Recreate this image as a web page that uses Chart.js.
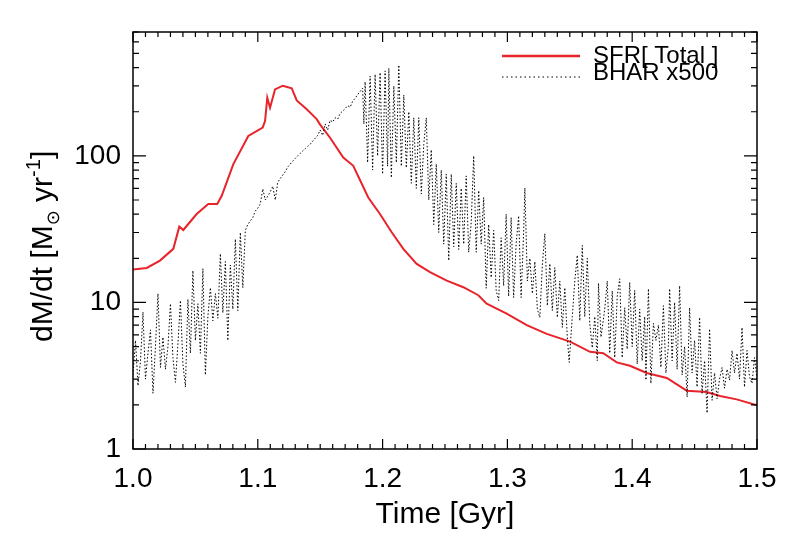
<!DOCTYPE html>
<html>
<head>
<meta charset="utf-8">
<script src="https://cdn.jsdelivr.net/npm/chart.js@4/dist/chart.umd.min.js"></script>
<style>
  body { margin: 0; background: #fff; }
  canvas { display: block; }
</style>
</head>
<body>
<canvas id="rateChart" width="796" height="537"></canvas>
<script>
// SFR (red) and BHAR x500 (black dotted)
const sfrTime = [1.000, 1.011, 1.0216, 1.0323, 1.0371, 1.0403, 1.051, 1.0603, 1.0675, 1.0711,
  1.0804, 1.0924, 1.1039, 1.1058, 1.1076, 1.1098, 1.1138, 1.120, 1.1272, 1.1312,
  1.1392, 1.1472, 1.1498, 1.1579, 1.1685, 1.1765, 1.1885, 1.1979, 1.2073, 1.2166,
  1.2273, 1.238, 1.2514, 1.2647, 1.2767, 1.2834, 1.2994, 1.3155, 1.3315, 1.3502,
  1.3662, 1.3768, 1.3876, 1.3982, 1.4116, 1.4277, 1.4437, 1.4597, 1.4704, 1.4837, 1.500];
const sfrRate = [16.8, 17.2, 19.3, 23.2, 32.9, 31.2, 40.1, 46.9, 46.9, 53.4,
  87.8, 136.8, 155.9, 173, 249, 213, 284, 301, 289, 239,
  208, 178, 164, 133, 97.3, 85.5, 52.0, 40.1, 30.1, 23.2,
  18.3, 16.1, 14.1, 12.7, 11.2, 9.8, 8.4, 7.0, 6.1, 5.4,
  4.6, 4.5, 3.9, 3.7, 3.3, 3.05, 2.5, 2.45, 2.3, 2.18, 1.99];

const bharTime = [1.000, 1.002, 1.004, 1.006, 1.008, 1.010, 1.012, 1.014, 1.016, 1.018,
  1.020, 1.022, 1.024, 1.026, 1.028, 1.030, 1.032, 1.034, 1.036, 1.038,
  1.040, 1.042, 1.044, 1.046, 1.048, 1.050, 1.052, 1.054, 1.056, 1.058,
  1.060, 1.062, 1.064, 1.066, 1.068, 1.070, 1.072, 1.074, 1.076, 1.078,
  1.080, 1.082, 1.084, 1.086, 1.088, 1.090, 1.092, 1.094, 1.096, 1.098,
  1.100, 1.102, 1.104, 1.106, 1.108, 1.110, 1.112, 1.114, 1.116, 1.118,
  1.120, 1.122, 1.124, 1.126, 1.128, 1.130, 1.132, 1.134, 1.136, 1.138,
  1.140, 1.142, 1.144, 1.146, 1.148, 1.150, 1.152, 1.154, 1.156, 1.158,
  1.160, 1.162, 1.164, 1.166, 1.168, 1.170, 1.172, 1.174, 1.176, 1.178,
  1.180, 1.182, 1.184, 1.185, 1.186, 1.188, 1.190, 1.192, 1.194, 1.196,
  1.198, 1.200, 1.202, 1.204, 1.205, 1.207, 1.209, 1.211, 1.213, 1.215,
  1.217, 1.219, 1.221, 1.223, 1.225, 1.227, 1.229, 1.231, 1.233, 1.235,
  1.237, 1.239, 1.241, 1.243, 1.245, 1.247, 1.249, 1.251, 1.253, 1.255,
  1.257, 1.259, 1.261, 1.263, 1.265, 1.267, 1.269, 1.271, 1.273, 1.275,
  1.277, 1.279, 1.281, 1.283, 1.285, 1.287, 1.289, 1.291, 1.293, 1.295,
  1.297, 1.299, 1.301, 1.303, 1.305, 1.307, 1.309, 1.311, 1.313, 1.314,
  1.316, 1.318, 1.320, 1.322, 1.324, 1.326, 1.328, 1.330, 1.332, 1.334,
  1.336, 1.338, 1.340, 1.342, 1.344, 1.346, 1.348, 1.3495, 1.352, 1.354,
  1.356, 1.358, 1.360, 1.362, 1.364, 1.366, 1.368, 1.370, 1.372, 1.373,
  1.375, 1.378, 1.380, 1.382, 1.384, 1.386, 1.388, 1.390, 1.392, 1.394,
  1.396, 1.398, 1.400, 1.402, 1.404, 1.406, 1.408, 1.410, 1.411, 1.413,
  1.415, 1.417, 1.419, 1.421, 1.423, 1.425, 1.427, 1.429, 1.430, 1.432,
  1.434, 1.436, 1.438, 1.440, 1.442, 1.444, 1.446, 1.448, 1.450, 1.452,
  1.454, 1.456, 1.458, 1.460, 1.462, 1.464, 1.466, 1.468, 1.470, 1.472,
  1.474, 1.476, 1.478, 1.480, 1.482, 1.484, 1.486, 1.488, 1.490, 1.492,
  1.494, 1.496, 1.498, 1.500];
const bharRate = [3.2, 5.5, 2.7, 4.0, 8.6, 3.0, 4.5, 6.5, 2.4, 5.0,
  11.5, 3.6, 5.8, 3.5, 5.0, 9.8, 4.2, 2.85, 5.2, 10.3,
  3.8, 2.65, 10.5, 4.5, 16.5, 5.5, 9.8, 4.5, 17.0, 3.2,
  8.0, 12.6, 7.5, 11.5, 7.8, 21.5, 8.5, 19, 5.5, 18,
  9.0, 27, 8.8, 30, 12.6, 31, 34, 36, 38, 42,
  44, 47, 59.5, 50, 53, 57, 62, 50, 66, 70,
  74, 78, 84, 88, 92, 96, 100, 104, 108, 112,
  116, 120, 126, 132, 138, 150, 138, 165, 150, 175,
  170, 182, 178, 195, 202, 210, 220, 215, 236, 247,
  262, 275, 290, 165, 320, 90, 350, 80, 360, 100,
  370, 75, 380, 85, 396, 71, 300, 90, 417, 85,
  260, 83, 200, 65, 182, 60, 182, 55, 120, 182,
  50, 110, 34, 88, 30, 80, 25, 75, 19.3, 75,
  24, 65, 23, 60, 25, 73, 22, 35, 100, 22,
  58, 25, 52, 12.5, 34, 14.8, 31, 12.1, 10.3, 27.6,
  13, 40, 11, 38, 10.8, 25, 39, 10.8, 30, 60.5,
  14, 20, 11.5, 19, 9, 7.9, 18, 29.5, 9.5, 18.4,
  8.8, 17.3, 7.9, 14, 6.75, 12.6, 5.8, 3.9, 8, 14,
  21, 7.5, 24.5, 8, 20, 7.2, 4.9, 8, 4.0, 13.5,
  5.8, 9, 14, 4.5, 12, 4.2, 11, 14.5, 4.2, 9.2,
  4.8, 13.7, 5, 12.1, 3.8, 9, 4.0, 8, 2.95, 12.4,
  2.8, 7.2, 5.5, 7.0, 3.6, 9.5, 3.3, 5, 12.4, 4,
  10, 3.5, 13, 3.2, 5, 2.26, 9.2, 3.3, 5.5, 2.65,
  7.9, 2.4, 4, 1.76, 6.6, 2.15, 3.3, 2.2, 3.0, 3.6,
  2.6, 3.5, 2.95, 4.7, 3.3, 4.5, 3, 6.75, 2.65, 4.7,
  3.1, 2.8, 4.2, 3.0];

const xTicks = [1.0, 1.1, 1.2, 1.3, 1.4, 1.5];
const yTicks = [1, 10, 100];

const RED = '#e8232a';

function pairs(xs, ys) {
  return xs.map((x, i) => ({ x: x, y: ys[i] }));
}

// IDL-style frame with inward ticks on all four sides, legend and y title
const idlFrame = {
  id: 'idlFrame',
  afterDatasetsDraw(chart) {
    const { ctx, chartArea: a, scales } = chart;
    const xs = scales.x, ys = scales.y;
    ctx.save();
    ctx.strokeStyle = '#000';
    ctx.lineWidth = 1.5;
    ctx.strokeRect(a.left, a.top, a.right - a.left, a.bottom - a.top);

    ctx.lineWidth = 1.2;
    ctx.beginPath();
    for (let i = 0; i <= 50; i++) {
      const v = 1.0 + i * 0.01;
      const px = xs.getPixelForValue(v);
      const len = (i % 10 === 0) ? 10 : 5;
      ctx.moveTo(px, a.bottom); ctx.lineTo(px, a.bottom - len);
      ctx.moveTo(px, a.top); ctx.lineTo(px, a.top + len);
    }
    for (let d = 1; d <= 100; d *= 10) {
      for (let m = 1; m <= 9; m++) {
        const v = d * m;
        if (v > ys.max) break;
        const py = ys.getPixelForValue(v);
        const len = (m === 1) ? 13 : 6;
        ctx.moveTo(a.left, py); ctx.lineTo(a.left + len, py);
        ctx.moveTo(a.right, py); ctx.lineTo(a.right - len, py);
      }
    }
    ctx.stroke();

    // legend
    const lx0 = 502, lx1 = 580;
    ctx.lineWidth = 2.5;
    ctx.strokeStyle = RED;
    ctx.beginPath(); ctx.moveTo(lx0, 56); ctx.lineTo(lx1, 56); ctx.stroke();
    ctx.lineWidth = 1;
    ctx.strokeStyle = '#000';
    ctx.setLineDash([1.5, 3]);
    ctx.beginPath(); ctx.moveTo(lx0, 77); ctx.lineTo(lx1, 77); ctx.stroke();
    ctx.setLineDash([]);
    ctx.fillStyle = '#000';
    ctx.font = '24px "Liberation Sans", Arial, sans-serif';
    ctx.textBaseline = 'alphabetic';
    ctx.textAlign = 'left';
    ctx.fillText('SFR[ Total ]', 593, 63);
    ctx.fillText('BHAR x500', 593, 80);

    // y axis title: dM/dt [M(sun) yr^-1]
    ctx.translate(52, 342);
    ctx.rotate(-Math.PI / 2);
    const big = '30px "Liberation Sans", Arial, sans-serif';
    const small = '20px "Liberation Sans", "DejaVu Sans", sans-serif';
    let x = 0;
    const piece = (t, f, dy) => {
      ctx.font = f;
      ctx.fillText(t, x, dy);
      x += ctx.measureText(t).width;
    };
    piece('dM/dt [M', big, 0);
    piece('\u2299', '18px "DejaVu Sans", sans-serif', 7);
    piece(' yr', big, 0);
    piece('-1', small, -12);
    piece(']', big, 0);
    ctx.restore();
  }
};

const ctx = document.getElementById('rateChart').getContext('2d');
const rateChart = new Chart(ctx, {
  type: 'line',
  data: {
    datasets: [{
      label: 'BHAR x500',
      data: pairs(bharTime, bharRate),
      borderColor: '#000',
      borderWidth: 1,
      borderDash: [1.5, 2],
      pointRadius: 0,
      tension: 0,
      fill: false
    }, {
      label: 'SFR[ Total ]',
      data: pairs(sfrTime, sfrRate),
      borderColor: RED,
      borderWidth: 2,
      pointRadius: 0,
      tension: 0,
      fill: false
    }]
  },
  options: {
    responsive: false,
    animation: false,
    layout: { padding: { top: 32, right: 39, left: 0, bottom: 0 } },
    plugins: {
      legend: { display: false },
      tooltip: { enabled: false }
    },
    scales: {
      x: {
        type: 'linear',
        min: 1.0,
        max: 1.5,
        grid: { display: false, drawTicks: false },
        border: { display: false },
        afterBuildTicks: (s) => { s.ticks = xTicks.map(v => ({ value: v })); },
        afterFit: (s) => { s.height = 88; },
        ticks: {
          color: '#000',
          padding: 13,
          maxRotation: 0,
          font: { family: '"Liberation Sans", Arial, sans-serif', size: 28 },
          callback: (v) => Number(v).toFixed(1)
        },
        title: {
          display: true,
          text: 'Time [Gyr]',
          color: '#000',
          padding: { top: 0, bottom: 4 },
          font: { family: '"Liberation Sans", Arial, sans-serif', size: 30 }
        }
      },
      y: {
        type: 'logarithmic',
        min: 1,
        max: 700,
        grid: { display: false, drawTicks: false },
        border: { display: false },
        afterBuildTicks: (s) => { s.ticks = yTicks.map(v => ({ value: v })); },
        afterFit: (s) => { s.width = 133; },
        ticks: {
          color: '#000',
          padding: 12,
          font: { family: '"Liberation Sans", Arial, sans-serif', size: 28 },
          callback: (v) => String(v)
        }
      }
    }
  },
  plugins: [idlFrame]
});
</script>
</body>
</html>
